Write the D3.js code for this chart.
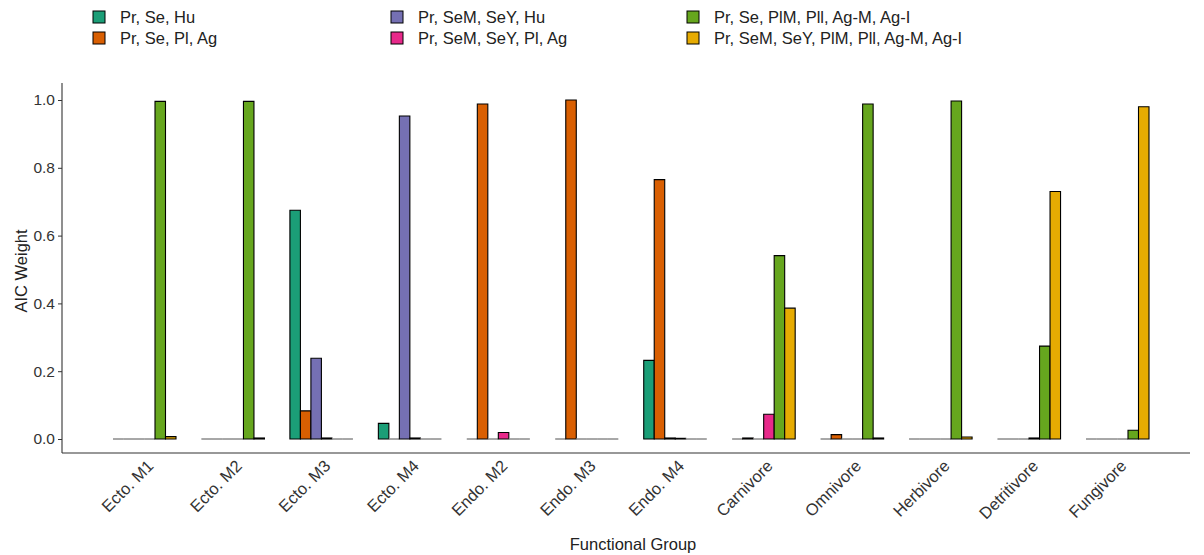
<!DOCTYPE html>
<html>
<head>
<meta charset="utf-8">
<script src="https://cdn.jsdelivr.net/npm/d3@7"></script>
<style>
  html, body { margin: 0; padding: 0; background: #fff; }
  text { font-family: "Liberation Sans", Arial, sans-serif; }
</style>
</head>
<body>
<svg id="chart" width="1204" height="555"></svg>
<script>
// Functional groups along the x axis
const groups = ["Ecto. M1", "Ecto. M2", "Ecto. M3", "Ecto. M4", "Endo. M2", "Endo. M3",
                "Endo. M4", "Carnivore", "Omnivore", "Herbivore", "Detritivore", "Fungivore"];

// Candidate models (legend order)
const models = ["Pr, Se, Hu", "Pr, Se, Pl, Ag", "Pr, SeM, SeY, Hu", "Pr, SeM, SeY, Pl, Ag",
                "Pr, Se, PlM, Pll, Ag-M, Ag-I", "Pr, SeM, SeY, PlM, Pll, Ag-M, Ag-I"];

// AIC weight of each model, one value per functional group
const wPrSeHu        = [0, 0, 0.675, 0.046, 0, 0, 0.232, 0, 0, 0, 0, 0];
const wPrSePlAg      = [0, 0, 0.083, 0, 0.988, 1.0, 0.765, 0.003, 0.013, 0, 0, 0];
const wPrSeMSeYHu    = [0, 0, 0.238, 0.953, 0, 0, 0.003, 0, 0, 0, 0, 0];
const wPrSeMSeYPlAg  = [0, 0, 0.003, 0.003, 0.019, 0, 0.002, 0.073, 0, 0, 0.003, 0];
const wPrSePlMPll    = [0.996, 0.996, 0, 0, 0, 0, 0, 0.541, 0.988, 0.997, 0.274, 0.026];
const wPrSeMSeYPlMPll= [0.007, 0.003, 0, 0, 0, 0, 0, 0.386, 0.003, 0.006, 0.73, 0.98];

const yTicks = [0.0, 0.2, 0.4, 0.6, 0.8, 1.0];

const series = [wPrSeHu, wPrSePlAg, wPrSeMSeYHu, wPrSeMSeYPlAg, wPrSePlMPll, wPrSeMSeYPlMPll];
const colors = ["#1B9E77", "#D95F02", "#7570B3", "#E7298A", "#66A61E", "#E6AB02"];

const svg = d3.select("#chart");

// Panel geometry
const panel = { left: 62, right: 1190, top: 83, bottom: 453 };

const x = d3.scalePoint().domain(groups).range([144.5, 1117.5]);
const xInner = d3.scaleBand().domain(d3.range(models.length)).range([-31.5, 31.5]).padding(0);
const y = d3.scaleLinear().domain([0, 1]).range([439, 100]);
const color = d3.scaleOrdinal().domain(models).range(colors);

// Bars (drawn as paths so zero-height bars still show their outline)
const barG = svg.append("g");
groups.forEach((g, gi) => {
  series.forEach((vals, si) => {
    const x0 = x(g) + xInner(si);
    const w = xInner.bandwidth();
    const y0 = y(0), y1 = y(vals[gi]);
    const p = d3.path();
    p.moveTo(x0, y0); p.lineTo(x0, y1); p.lineTo(x0 + w, y1); p.lineTo(x0 + w, y0); p.closePath();
    barG.append("path")
      .attr("d", p.toString())
      .attr("fill", color(models[si]))
      .attr("stroke", vals[gi] === 0 ? "#8a8a8a" : "#000")
      .attr("stroke-width", vals[gi] === 0 ? 1 : 1.1);
  });
});

// Axis lines
svg.append("line").attr("x1", panel.left).attr("x2", panel.left)
  .attr("y1", panel.top).attr("y2", panel.bottom).attr("stroke", "#333").attr("stroke-width", 1.1);
svg.append("line").attr("x1", panel.left).attr("x2", panel.right)
  .attr("y1", panel.bottom).attr("y2", panel.bottom).attr("stroke", "#333").attr("stroke-width", 1.1);

// Y axis ticks and labels
const yAxis = d3.axisLeft(y).tickValues(yTicks).tickFormat(d3.format(".1f")).tickSize(4).tickPadding(3);
const yg = svg.append("g").attr("transform", `translate(${panel.left},0)`).call(yAxis);
yg.select(".domain").remove();
yg.selectAll(".tick line").attr("stroke", "#333");
yg.selectAll(".tick text").attr("font-size", 15.5).attr("fill", "#333")
  .attr("font-family", "Liberation Sans, Arial, sans-serif");

// X tick labels, rotated 45 degrees
svg.append("g").selectAll("text").data(groups).join("text")
  .attr("transform", d => `translate(${x(d) + 6},${463}) rotate(-45)`)
  .attr("text-anchor", "end")
  .attr("dy", "0.35em")
  .attr("font-size", 16.5)
  .attr("fill", "#333")
  .text(d => d);

// Axis titles
svg.append("text").attr("x", 633).attr("y", 550).attr("text-anchor", "middle")
  .attr("font-size", 16.5).attr("fill", "#222").text("Functional Group");
svg.append("text").attr("transform", "translate(27,271) rotate(-90)").attr("text-anchor", "middle")
  .attr("font-size", 16.5).attr("fill", "#222").text("AIC Weight");

// Legend: three columns, two rows
const legCols = [93, 391, 687];
const legRows = [17, 38];
const leg = svg.append("g");
models.forEach((m, i) => {
  const col = Math.floor(i / 2), row = i % 2;
  const gx = legCols[col], gy = legRows[row];
  leg.append("rect").attr("x", gx).attr("y", gy - 6).attr("width", 12).attr("height", 12)
    .attr("fill", color(m)).attr("stroke", "#000").attr("stroke-width", 1);
  leg.append("text").attr("x", gx + 27).attr("y", gy).attr("dy", "0.35em")
    .attr("font-size", 16.5).attr("fill", "#222").text(m);
});
</script>
</body>
</html>
